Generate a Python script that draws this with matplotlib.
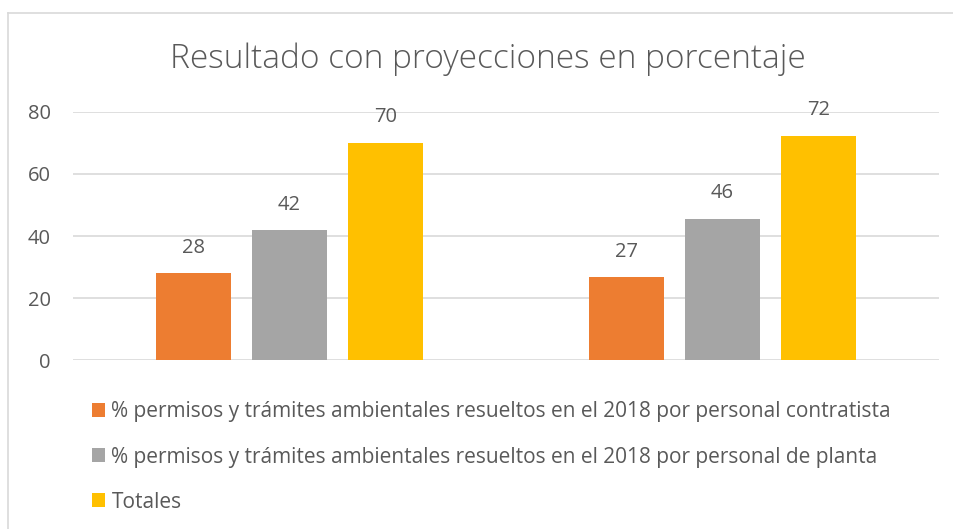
import matplotlib.pyplot as plt
import numpy as np
from matplotlib.lines import Line2D

plt.rcParams['font.family'] = ['Open Sans', 'DejaVu Sans']

# datos por grupo (dos proyecciones, sin etiqueta de categoria)
grupos = ['', '']
contratista = [28.0, 26.7]
planta = [41.9, 45.6]
totales = [70.0, 72.3]
series = [
    ('% permisos y trámites ambientales resueltos en el 2018 por personal contratista', contratista, '#ED7D31'),
    ('% permisos y trámites ambientales resueltos en el 2018 por personal de planta', planta, '#A5A5A5'),
    ('Totales', totales, '#FFC000'),
]
yticks = [0, 20, 40, 60, 80]

texto = '#595959'
rejilla = '#D9D9D9'

fig = plt.figure(figsize=(9.54, 5.29), dpi=100)
ax = fig.add_axes([73 / 954, 1 - 360.3 / 529, 866 / 954, 248.6 / 529])

x = np.arange(len(grupos))
width = 0.174
step = 0.222

barras = []
for i, (nombre, valores, color) in enumerate(series):
    rects = ax.bar(x + (i - 1) * step, valores, width, color=color, label=nombre, zorder=3)
    ax.bar_label(rects, fmt='%.0f', padding=11, fontsize=14.5, color=texto)
    barras.append(rects)

ax.set_xlim(-0.5, len(grupos) - 0.5)
ax.set_ylim(0, 80)
ax.set_yticks(yticks)
ax.set_xticks([])
ax.grid(axis='y', color=rejilla, linewidth=1.2, zorder=0)
ax.tick_params(axis='y', length=0, pad=16, labelsize=14.5, labelcolor=texto)
for s in ax.spines.values():
    s.set_visible(False)

fig.text(488 / 954, 1 - 68.3 / 529, 'Resultado con proyecciones en porcentaje',
         ha='center', va='baseline', fontsize=24, fontweight='light', color=texto)

leg = fig.legend(handles=barras, loc='upper left', bbox_to_anchor=(84 / 954, 1 - 393 / 529),
                 frameon=False, fontsize=15, labelcolor=texto, handlelength=0.62,
                 handleheight=0.67, handletextpad=0.3, labelspacing=1.16, borderaxespad=0)

# marco del grafico (solo borde superior e izquierdo)
fig.add_artist(Line2D([8.5 / 954, 8.5 / 954], [0, 1 - 13 / 529], color=rejilla, lw=1.2, transform=fig.transFigure))
fig.add_artist(Line2D([8.5 / 954, 1], [1 - 13 / 529, 1 - 13 / 529], color=rejilla, lw=1.2, transform=fig.transFigure))

fig.savefig('out.png', dpi=100)
